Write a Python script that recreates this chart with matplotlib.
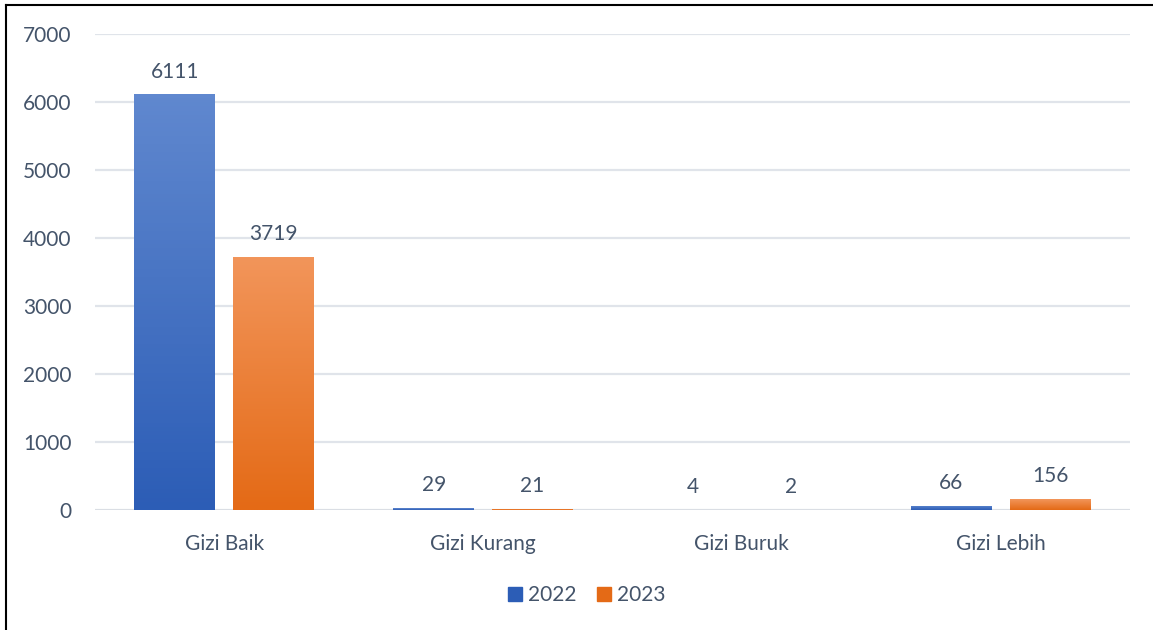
import numpy as np
import matplotlib.pyplot as plt
from matplotlib.colors import LinearSegmentedColormap
from matplotlib.patches import Rectangle

categories = ["Gizi Baik", "Gizi Kurang", "Gizi Buruk", "Gizi Lebih"]
years = ["2022", "2023"]
values_2022 = [6111, 29, 4, 66]
values_2023 = [3719, 21, 2, 156]

plt.rcParams['font.family'] = ['Lato', 'DejaVu Sans']
txt = '#44546a'

fig = plt.figure(figsize=(11.53, 6.30), dpi=100)
ax = fig.add_axes([95 / 1153, 1 - 510 / 630, 1035 / 1153, 476 / 630])

x = np.arange(len(categories))
w = 0.313
off = 0.191

grads = [('#6088cf', '#2c5db6'), ('#f2955a', '#e46a16')]
series = [values_2022, values_2023]

for i, vals in enumerate(series):
    cmap = LinearSegmentedColormap.from_list('g', [grads[i][1], grads[i][0]])
    bars = ax.bar(x + (i * 2 - 1) * off, vals, w, color=grads[i][1], zorder=2, label=years[i])
    for b, v in zip(bars, vals):
        bx, by = b.get_x(), b.get_y()
        bw, bh = b.get_width(), b.get_height()
        img = ax.imshow(np.linspace(0, 1, 100).reshape(-1, 1), cmap=cmap, aspect='auto',
                        extent=[bx, bx + bw, by, by + max(bh, 1)], origin='lower', zorder=3)
        img.set_clip_path(b)
        ax.text(bx + bw / 2, v + 190, str(v), ha='center', va='bottom', fontsize=15, color=txt)

ax.set_xlim(-0.5, 3.5)
ax.set_ylim(0, 7000)
ax.set_yticks(range(0, 7001, 1000))
ax.set_xticks(x)
ax.set_xticklabels(categories)
ax.yaxis.grid(True, color='#e0e4ea', lw=1.6, zorder=0)
ax.set_axisbelow(True)
for s in ax.spines.values():
    s.set_visible(False)
ax.axhline(0, color='#d9dde3', lw=1.8, zorder=1)
ax.tick_params(length=0, labelsize=15, colors=txt)
ax.tick_params(axis='x', pad=17)
ax.tick_params(axis='y', pad=17)
for lbl in ax.get_xticklabels() + ax.get_yticklabels():
    lbl.set_color(txt)

handles = [Rectangle((0, 0), 1, 1, color=grads[0][1]), Rectangle((0, 0), 1, 1, color=grads[1][1])]
fig.legend(handles, years, loc='center', bbox_to_anchor=(587 / 1153, 1 - 595 / 630), ncol=2, frameon=False,
           fontsize=15, labelcolor=txt, handlelength=0.65, handleheight=0.65, handletextpad=0.3,
           columnspacing=1.0)

# outer border (left and top)
fig.add_artist(plt.Line2D([5.5 / 1153, 5.5 / 1153], [0, 1 - 5 / 630], color='black', lw=1.5))
fig.add_artist(plt.Line2D([5.5 / 1153, 1], [1 - 5 / 630, 1 - 5 / 630], color='black', lw=1.5))

fig.savefig('out.png', dpi=100)
